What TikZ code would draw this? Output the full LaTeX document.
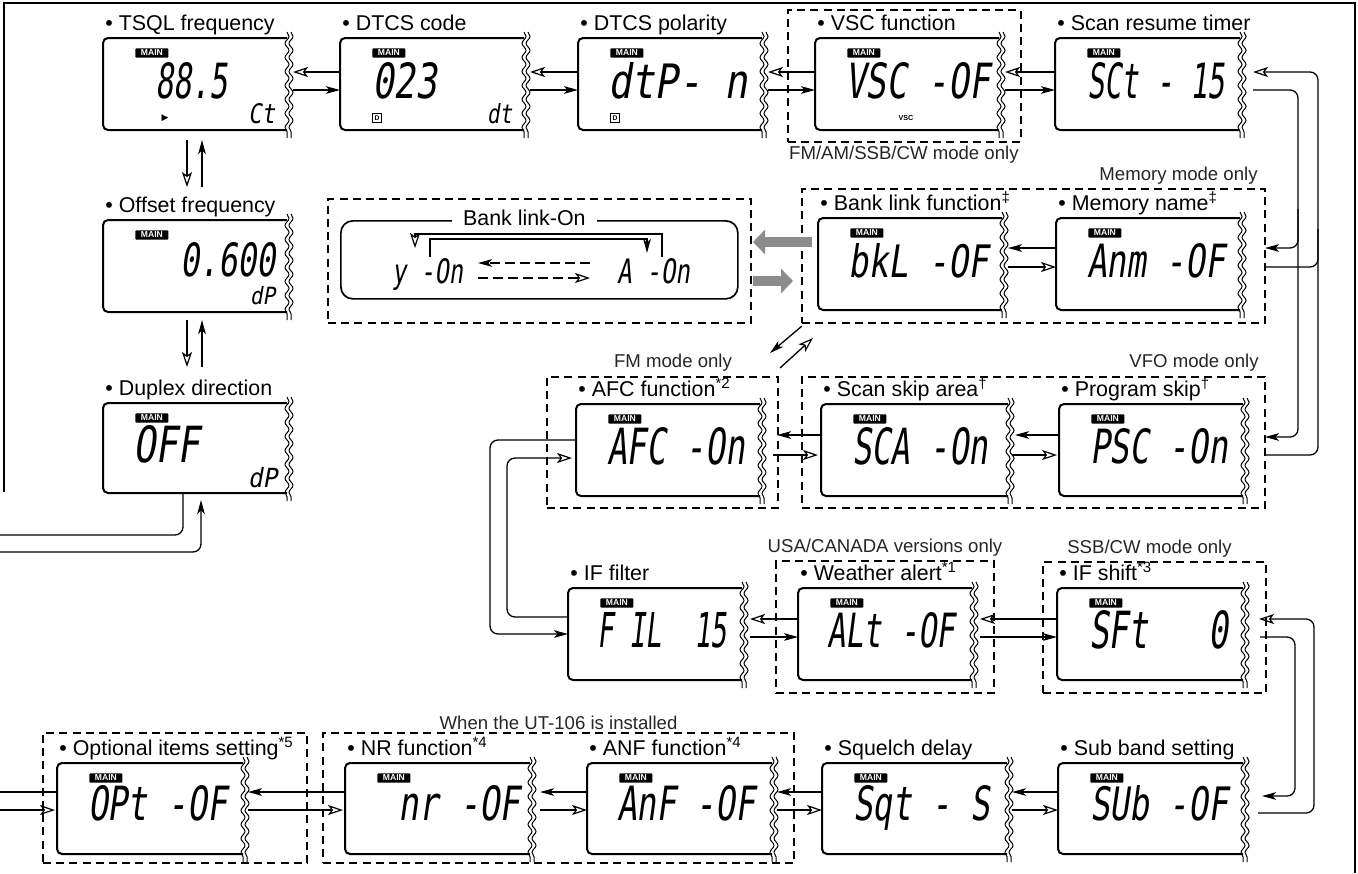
\documentclass[tikz,border=0pt]{standalone}
\usepackage{fontspec}
\setmainfont{Liberation Sans}
\newfontfamily\lcdf[FakeSlant=0.2]{DejaVu Sans Mono}
\newfontfamily\djv{DejaVu Sans}
\usepackage{graphicx}
\usetikzlibrary{arrows.meta,calc,decorations.pathmorphing,fit}

% name, x, y, width(px), height(px), title
\newcommand\lcdbox[6]{%
  \node[lcdn, minimum width=#4*0.5pt+3pt, minimum height=#5*0.5pt] (#1) at (#2,#3) {};
  \draw[frame] ($(#1.north east)+(-6,0)$) -- (#1.north west) -- (#1.south west) -- ($(#1.south east)+(-6,0)$);
  \draw[wavy] ($(#1.north east)+(-6,-6)$) -- ($(#1.south east)+(-6,8)$);
  \draw[wavy] ($(#1.north east)+(-2,-6)$) -- ($(#1.south east)+(-2,8)$);
  \node[ttl] (#1-ttl) at ($(#1.north west)+(2,-8)$) {#6};
  \node[mainb] (#1-main) at ($(#1.north west)+(32,10)$) {MAIN};
}
% name, id, xoff(px), yoff(px), width(pt), height(pt), text
\newcommand\lcdtxt[7]{%
  \node[lcdt] (#1-#2) at ($(#1.north west)+(#3,#4)$) {\resizebox{#5pt}{#6pt}{\lcdf #7}};
}

\begin{document}
\begin{tikzpicture}[x=0.5pt,y=-0.5pt,
  con/.style={line width=0.65pt},
  fa/.style={-{Stealth[length=7pt,width=3.8pt,inset=1.8pt]}},
  ha/.style={-{Stealth[open,length=7.5pt,width=5pt,inset=1.8pt,line width=0.6pt]}},
  frame/.style={line width=1pt, rounded corners=2.5pt},
  wavy/.style={line width=0.5pt, decorate, decoration={snake, amplitude=1pt, segment length=7pt}},
  dbox/.style={draw, line width=0.9pt, dash pattern=on 4pt off 2.6pt, inner sep=0, outer sep=0},
  lcdn/.style={rectangle, anchor=north west, inner sep=0, outer sep=0},
  ttl/.style={anchor=base west, inner sep=0, font=\fontsize{10.7}{12}\selectfont},
  lbl/.style={inner sep=0, font=\fontsize{9.3}{11}\selectfont, text=black!85},
  mainb/.style={anchor=north west, fill=black, text=white, rounded corners=0.4pt, inner sep=0, minimum width=16.5pt, minimum height=4.6pt, font=\bfseries\fontsize{4.3}{4.3}\selectfont},
  lcdt/.style={anchor=north west, inner sep=0, outer sep=0},
  garrow/.style={line width=5.3pt, draw=black!45, -{Triangle[length=6pt,width=12pt]}},
]
\useasboundingbox (0,0) rectangle (1358,873);
\fill[white] (0,0) rectangle (1358,873);

% ---------- dashed groups ----------
\node[dbox, fit={(788,10) (1021,142)}] (vscd) {};
\node[dbox, fit={(328,199) (751,323)}] (bpd) {};
\node[dbox, fit={(802,189) (1265,323)}] (memd) {};
\node[dbox, fit={(547,377) (778,508)}] (afcd) {};
\node[dbox, fit={(802,377) (1265,508)}] (vfod) {};
\node[dbox, fit={(776,561) (994,693)}] (wxd) {};
\node[dbox, fit={(1043,562) (1266,693)}] (ssbd) {};
\node[dbox, fit={(43,733) (307,863)}] (optd) {};
\node[dbox, fit={(323,733) (794,863)}] (utd) {};

% group labels
\node[lbl, anchor=base east] (l1) at ($(vscd.south east)+(-2,17)$) {FM/AM/SSB/CW mode only};
\node[lbl, anchor=base east] (l2) at ($(memd.north east)+(-7,-9)$) {Memory mode only};
\node[lbl, anchor=base] (l3) at ($(afcd.north west)+(126,-10)$) {FM mode only};
\node[lbl, anchor=base east] (l4) at ($(vfod.north east)+(-6,-10)$) {VFO mode only};
\node[lbl, anchor=base] (l5) at ($(wxd.north)+(0,-9)$) {USA/CANADA versions only};
\node[lbl, anchor=base] (l6) at ($(ssbd.north)+(-5,-9)$) {SSB/CW mode only};
\node[lbl, anchor=base] (l7) at ($(utd.north)+(0,-4)$) {When the UT-106 is installed};

% ---------- Bank link-On panel ----------
\node[draw, line width=0.85pt, rounded corners=6pt, anchor=north west, minimum width=198.5pt, minimum height=39pt, inner sep=0] (bp) at (340,220) {};
\node[fill=white, inner xsep=5.5pt, inner ysep=1pt, anchor=base, font=\fontsize{10.7}{12}\selectfont] (bpt) at ($(bp.north)+(-15,5)$) {Bank link-On};
\node[lcdt] (yon) at (392,258) {\resizebox{35.5pt}{12.5pt}{\lcdf y -On}};
\node[lcdt] (aon) at (617,258) {\resizebox{36.5pt}{12.5pt}{\lcdf A -On}};
\draw[con,ha] ($(aon.north west)+(45,-1)$) |- ($(yon.north west)+(23,-24)$) -- ($(yon.north west)+(23,-10)$);
\draw[con,fa] ($(yon.north west)+(38,-1)$) |- ($(aon.north west)+(30,-19)$) -- ($(aon.north west)+(30,-5)$);
\draw[con,fa,dash pattern=on 5pt off 2.5pt] ($(aon.north west)+(-27,5)$) -- ($(yon.north east)+(15,5)$);
\draw[con,ha,dash pattern=on 5pt off 2.5pt] ($(yon.north east)+(15,20)$) -- ($(aon.north west)+(-27,20)$);

% ---------- LCD boxes ----------
\lcdbox{tsql}{103}{38}{184}{92}{• TSQL frequency}
\lcdbox{dtcsc}{340}{38}{184}{92}{• DTCS code}
\lcdbox{dtcsp}{578}{38}{184}{92}{• DTCS polarity}
\lcdbox{vsc}{815}{38}{184}{92}{• VSC function}
\lcdbox{scan}{1055}{38}{185}{92}{• Scan resume timer}
\lcdbox{off}{103}{220}{184}{92}{• Offset frequency}
\lcdbox{dup}{103}{403}{184}{90}{• Duplex direction}
\lcdbox{bank}{818}{218}{184}{92}{• Bank link function\textsuperscript{‡}}
\lcdbox{mem}{1056}{218}{184}{92}{• Memory name\textsuperscript{‡}}
\lcdbox{afc}{576}{404}{184}{92}{• AFC function\textsuperscript{*2}}
\lcdbox{sca}{821}{404}{187}{92}{• Scan skip area\textsuperscript{†}}
\lcdbox{psc}{1059}{404}{184}{92}{• Program skip\textsuperscript{†}}
\lcdbox{fil}{568}{588}{174}{92}{• IF filter}
\lcdbox{wx}{798}{588}{174}{92}{• Weather alert\textsuperscript{*1}}
\lcdbox{ifs}{1057}{588}{186}{92}{• IF shift\textsuperscript{*3}}
\lcdbox{opt}{57}{763}{186}{91}{• Optional items setting\textsuperscript{*5}}
\lcdbox{nr}{345}{763}{185}{91}{• NR function\textsuperscript{*4}}
\lcdbox{anf}{587}{763}{185}{91}{• ANF function\textsuperscript{*4}}
\lcdbox{sq}{822}{763}{185}{91}{• Squelch delay}
\lcdbox{sub}{1058}{763}{185}{91}{• Sub band setting}

% LCD texts
\lcdtxt{tsql}{t}{52}{24}{36.5}{18}{88.5}
\lcdtxt{tsql}{s}{145}{65}{13.5}{10}{Ct}
\node[inner sep=0, font=\djv\fontsize{4.5}{4.5}\selectfont] (tsql-tri) at ($(tsql.north west)+(62,80)$) {▶};
\lcdtxt{dtcsc}{t}{32}{24}{32.5}{18}{023}
\lcdtxt{dtcsc}{s}{147}{65}{12.5}{10}{dt}
\node[draw, line width=0.35pt, inner sep=0, minimum size=4.3pt, font=\bfseries\fontsize{3.4}{3.4}\selectfont] (dtcsc-d) at ($(dtcsc.north west)+(37,80)$) {D};
\lcdtxt{dtcsp}{t}{30}{24}{70}{18}{dtP- n}
\node[draw, line width=0.35pt, inner sep=0, minimum size=4.3pt, font=\bfseries\fontsize{3.4}{3.4}\selectfont] (dtcsp-d) at ($(dtcsp.north west)+(37,80)$) {D};
\lcdtxt{vsc}{t}{30}{24}{72.5}{18}{VSC -OF}
\node[inner sep=0, font=\bfseries\fontsize{3.6}{3.6}\selectfont] (vsc-s) at ($(vsc.north west)+(91,80)$) {VSC};
\lcdtxt{scan}{t}{32}{24}{69}{18}{SCt - 15}
\lcdtxt{off}{t}{77}{22}{48}{17}{0.600}
\lcdtxt{off}{s}{147}{66}{12.5}{9}{dP}
\lcdtxt{dup}{t}{30}{22}{33.5}{18.5}{OFF}
\lcdtxt{dup}{s}{145}{64}{14.5}{10}{dP}
\lcdtxt{bank}{t}{30}{25}{70}{17}{bkL -OF}
\lcdtxt{mem}{t}{31}{25}{69}{17}{Anm -OF}
\lcdtxt{afc}{t}{31}{23}{69}{18.5}{AFC -On}
\lcdtxt{sca}{t}{31}{23}{68}{18.5}{SCA -On}
\lcdtxt{psc}{t}{31}{24}{69}{17.5}{PSC -On}
\lcdtxt{fil}{t}{29}{24}{65}{17.5}{F~IL~~15}
\lcdtxt{wx}{t}{29}{24}{64}{17.5}{ALt -OF}
\lcdtxt{ifs}{t}{32}{22}{69.5}{19}{SFt~~~0}
\lcdtxt{opt}{t}{31}{22}{69.5}{17.5}{OPt -OF}
\lcdtxt{nr}{t}{53}{22}{61}{17.5}{nr -OF}
\lcdtxt{anf}{t}{30}{22}{69}{17.5}{AnF -OF}
\lcdtxt{sq}{t}{31}{22}{68.5}{17.5}{Sqt - S}
\lcdtxt{sub}{t}{32}{22}{69}{17.5}{SUb -OF}

% ---------- outer lines and free ends ----------
\coordinate (f1) at (4,492);
\coordinate (f2) at (4,3);
\coordinate (f3) at (1355,3);
\coordinate (f4) at (1355,873);
\draw[con] (f1) -- (f2) -- (f3) -- (f4);
\coordinate (e1) at (0,535);
\coordinate (e2) at (0,552);
\coordinate (e3) at (0,792);
\coordinate (e4) at (0,810);

% ---------- row 1 ----------
\draw[con,ha] ($(dtcsc.north west)+(0,34)$) -- ($(tsql.north east)+(0,34)$);
\draw[con,fa] ($(tsql.north east)+(0,52)$) -- ($(dtcsc.north west)+(0,52)$);
\draw[con,ha] ($(dtcsp.north west)+(0,34)$) -- ($(dtcsc.north east)+(0,34)$);
\draw[con,fa] ($(dtcsc.north east)+(0,52)$) -- ($(dtcsp.north west)+(0,52)$);
\draw[con,ha] ($(vsc.north west)+(0,34)$) -- ($(dtcsp.north east)+(0,34)$);
\draw[con,fa] ($(dtcsp.north east)+(0,52)$) -- ($(vsc.north west)+(0,52)$);
\draw[con,ha] ($(scan.north west)+(0,34)$) -- ($(vsc.north east)+(0,34)$);
\draw[con,fa] ($(vsc.north east)+(0,52)$) -- ($(scan.north west)+(0,52)$);

% ---------- left column ----------
\draw[con,ha] ($(tsql.south west)+(84,10)$) -- ($(off.north west)+(84,-33)$);
\draw[con,fa] ($(off.north west)+(99,-33)$) -- ($(tsql.south west)+(99,10)$);
\draw[con,ha] ($(off.south west)+(84,8)$) -- ($(dup.north west)+(84,-36)$);
\draw[con,fa] ($(dup.north west)+(99,-36)$) -- ($(off.south west)+(99,8)$);
\draw[con,rounded corners=4pt] ($(dup.south west)+(80,0)$) |- (e1);
\draw[con,fa,rounded corners=4pt] (e2) -| ($(dup.south west)+(98,7)$);

% ---------- memory row ----------
\draw[con,fa] ($(mem.north west)+(0,30)$) -- ($(bank.north east)+(0,30)$);
\draw[con,ha] ($(bank.north east)+(0,49)$) -- ($(mem.north west)+(0,49)$);
\draw[garrow] ($(memd.north west)+(10,53)$) -- ($(bpd.north east)+(2,43)$);
\draw[garrow] ($(bpd.north east)+(2,82)$) -- ($(memd.north west)+(-9,92)$);

% scan resume loops
\draw[con,fa,rounded corners=4pt] ($(scan.north east)+(7,52)$) -| ($(vfod.north east)+(33,60)$) -- ($(vfod.north east)+(0,60)$);
\draw[con,fa,rounded corners=4pt] ($(memd.north east)+(33,20)$) |- ($(memd.north east)+(0,59)$);
\draw[con,ha,rounded corners=4pt] ($(vfod.north east)+(0,78)$) -| ($(scan.north east)+(72,34)$) -- ($(scan.north east)+(7,34)$);
\draw[con,rounded corners=4pt] ($(memd.north east)+(0,78)$) -| ($(memd.north east)+(53,40)$);

% diagonals
\draw[con,fa] ($(memd.south west)+(0,3)$) -- ($(afcd.north east)+(-8,-24)$);
\draw[con,ha] ($(afcd.north east)+(2,-9)$) -- ($(memd.south west)+(11,15)$);

% ---------- row 3 ----------
\draw[con,fa] ($(sca.north west)+(0,31)$) -- ($(afc.north east)+(11,31)$);
\draw[con,ha] ($(afc.north east)+(7,51)$) -- ($(sca.north west)+(-3,51)$);
\draw[con,fa] ($(psc.north west)+(0,31)$) -- ($(sca.north east)+(1,31)$);
\draw[con,ha] ($(sca.north east)+(-2,51)$) -- ($(psc.north west)+(-2,51)$);
\draw[con,fa,rounded corners=4pt] ($(afc.north west)+(0,36)$) -| ($(fil.north west)+(-78,46)$) -- ($(fil.north west)+(0,46)$);
\draw[con,ha,rounded corners=4pt] ($(fil.north west)+(0,29)$) -| ($(afc.north west)+(-69,54)$) -- ($(afc.north west)+(-4,54)$);

% ---------- row 4 ----------
\draw[con,ha] ($(wx.north west)+(0,31)$) -- ($(fil.north east)+(2,31)$);
\draw[con,fa] ($(fil.north east)+(2,49)$) -- ($(wx.north west)+(0,49)$);
\draw[con,ha] ($(ifs.north west)+(0,31)$) -- ($(wx.north east)+(2,31)$);
\draw[con,fa] ($(wx.north east)+(2,49)$) -- ($(ifs.north west)+(0,49)$);
\draw[con,fa,rounded corners=4pt] ($(ifs.north east)+(11,49)$) -| ($(sub.north east)+(46,33)$) -- ($(sub.north east)+(13,33)$);
\draw[con,ha,rounded corners=4pt] ($(sub.north east)+(9,50)$) -| ($(ifs.north east)+(65,31)$) -- ($(ifs.north east)+(10,31)$);

% ---------- row 5 ----------
\draw[con,fa] ($(nr.north west)+(0,29)$) -- ($(opt.north east)+(-1,29)$);
\draw[con,ha] ($(opt.north east)+(-1,47)$) -- ($(nr.north west)+(-2,47)$);
\draw[con,fa] ($(anf.north west)+(0,29)$) -- ($(nr.north east)+(4,29)$);
\draw[con,ha] ($(nr.north east)+(4,47)$) -- ($(anf.north west)+(0,47)$);
\draw[con,fa] ($(sq.north west)+(0,29)$) -- ($(anf.north east)+(-1,29)$);
\draw[con,ha] ($(anf.north east)+(-1,47)$) -- ($(sq.north west)+(0,47)$);
\draw[con,fa] ($(sub.north west)+(0,29)$) -- ($(sq.north east)+(-1,29)$);
\draw[con,ha] ($(sq.north east)+(-1,47)$) -- ($(sub.north west)+(0,47)$);
\draw[con] ($(opt.north west)+(0,29)$) -- (e3);
\draw[con,ha] (e4) -- ($(opt.north west)+(-2,47)$);
\end{tikzpicture}
\end{document}
